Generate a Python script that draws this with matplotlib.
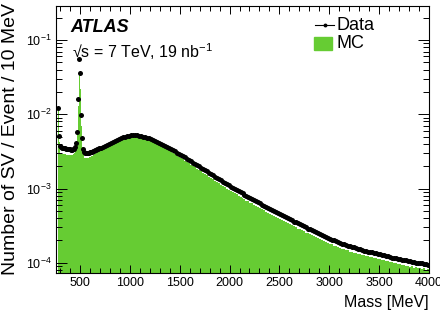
import numpy as np
import matplotlib
matplotlib.use("Agg")
import matplotlib.pyplot as plt
from matplotlib.lines import Line2D
from matplotlib.patches import Rectangle
from matplotlib.ticker import MultipleLocator, LogLocator, NullFormatter

plt.rcParams['font.family'] = ['Liberation Sans', 'DejaVu Sans']
plt.rcParams['mathtext.fontset'] = 'custom'
plt.rcParams['mathtext.rm'] = 'Liberation Sans'
plt.rcParams['mathtext.it'] = 'Liberation Sans:italic'

# Binning: 10 MeV bins from 260 to 700, 20 MeV bins from 700 to 4000
edges_fino = np.arange(260, 701, 10)
edges_grueso = np.arange(700, 4001, 20)

# Valores en unidades de 1e-5 (numero de SV / evento / 10 MeV)
data_fino = [0, 0, 1200, 510, 370, 360, 355, 350, 350, 350,
             345, 345, 340, 340, 340, 335, 335, 340, 345, 360,
             410, 570, 1600, 5500, 3600, 970, 480, 340, 310, 300,
             300, 300, 305, 305, 310, 315, 315, 320, 325, 330,
             335, 340, 345, 350]
mc_fino = [0, 0, 1250, 420, 300, 295, 290, 290, 288, 290,
           285, 287, 283, 285, 282, 284, 285, 290, 300, 320,
           370, 520, 1300, 3700, 2200, 700, 360, 280, 260, 255,
           258, 255, 260, 262, 268, 272, 278, 283, 290, 296,
           303, 310, 318, 326]

data_grueso = [355, 365, 375, 385, 400, 415, 430, 440, 455, 465,
               480, 490, 500, 510, 515, 520, 522, 522, 520, 515,
               510, 502, 494, 485, 475, 464, 452, 440, 428, 415,
               402, 390, 377, 364, 352, 340, 328, 316, 305, 294,
               283, 272, 262, 252, 242, 233, 224, 215, 207, 199,
               191, 184, 177, 170, 163, 157, 151, 145, 139, 134,
               128.5, 123.5, 119, 114, 110, 106, 102.5, 99, 95.5, 92,
               89, 86, 83, 80, 77.5, 75, 72.5, 70, 67.5, 65,
               63, 61, 59, 57, 55, 53, 51.5, 50, 48.5, 47,
               45.5, 44, 42.5, 41, 39.7, 38.5, 37.3, 36, 35, 34,
               33, 32, 31, 30, 29, 28.2, 27.4, 26.6, 25.8, 25,
               24.3, 23.6, 22.9, 22.2, 21.6, 21, 20.5, 20, 19.5, 19,
               18.6, 18.2, 17.8, 17.4, 17, 16.7, 16.4, 16.1, 15.8, 15.5,
               15.2, 14.9, 14.6, 14.4, 14.2, 14, 13.8, 13.6, 13.4, 13.2,
               13, 12.8, 12.6, 12.4, 12.2, 12, 11.8, 11.6, 11.5, 11.4,
               11.2, 11, 10.9, 10.8, 10.6, 10.5, 10.4, 10.2, 10.1, 10,
               9.9, 9.8, 9.7, 9.6, 9.5]
mc_grueso = [335, 347, 358, 370, 386, 402, 417, 428, 444, 455,
             470, 480, 492, 500, 506, 511, 512, 511, 508, 503,
             497, 488, 479, 469, 458, 446, 433, 421, 408, 394,
             381, 368, 354, 341, 329, 316, 304, 292, 281, 270,
             259, 248, 238, 228, 219, 210, 201, 193, 185, 177,
             170, 163, 157, 150, 144, 139, 133, 128, 122, 118,
             113, 108, 104, 100, 96.5, 92, 89.5, 86, 83.5, 79.5,
             77.5, 74.5, 72, 69, 67.5, 64.5, 63, 60, 58.5, 56,
             54.5, 52.5, 51, 49, 47.5, 45.5, 44.5, 43, 41.5, 40.5,
             39, 38, 36.5, 35.5, 34, 33.3, 32, 31, 30.2, 29,
             28.5, 27.3, 26.7, 25.6, 25, 24.1, 23.6, 22.7, 22.2, 21.3,
             20.9, 20.1, 19.8, 18.9, 18.6, 17.9, 17.7, 17, 16.8, 16.2,
             16, 15.5, 15.4, 14.8, 14.7, 14.2, 14.1, 13.7, 13.6, 13.2,
             13.1, 12.6, 12.6, 12.2, 12.2, 11.9, 11.9, 11.5, 11.5, 11.2,
             11.2, 10.8, 10.8, 10.5, 10.5, 10.2, 10.2, 9.8, 9.9, 9.6,
             9.7, 9.3, 9.4, 9.1, 9.1, 8.9, 9, 8.6, 8.8, 8.5,
             8.6, 8.3, 8.4, 8.1, 8.3]

edges = np.concatenate([edges_fino, edges_grueso[1:]])
data = np.array(data_fino + data_grueso) * 1e-5
mc = np.array(mc_fino + mc_grueso) * 1e-5
centros = 0.5 * (edges[1:] + edges[:-1])

verde = '#66cc33'

fig = plt.figure(figsize=(4.4, 3.14), dpi=100)
ax = fig.add_axes([56/440, 1 - 273/314, (429 - 56)/440, (273 - 6)/314])

ax.stairs(mc, edges, fill=True, baseline=1e-6, color=verde, lw=0)
m = data > 0
ax.plot(centros[m], data[m], 'o', color='k', ms=3.6, mew=0)

ax.set_yscale('log')
ax.set_xlim(260, 4000)
ax.set_ylim(7.3e-5, 0.287)

ax.xaxis.set_major_locator(MultipleLocator(500))
ax.xaxis.set_minor_locator(MultipleLocator(100))
ax.yaxis.set_minor_locator(LogLocator(subs=np.arange(2, 10)))
ax.yaxis.set_minor_formatter(NullFormatter())
ax.tick_params(which='both', direction='in', top=True, right=True, labelsize=9, width=0.7)
ax.tick_params(axis='x', which='major', length=6, pad=3)
ax.tick_params(axis='x', which='minor', length=3.5)
ax.tick_params(axis='y', which='major', length=8, pad=3)
ax.tick_params(axis='y', which='minor', length=4)
for s in ax.spines.values():
    s.set_linewidth(0.8)

fig.text(429/440, 1 - 303/314, 'Mass [MeV]', ha='right', va='center', fontsize=11.5)
fig.text(11/440, 1 - 3/314, 'Number of SV / Event / 10 MeV', rotation=90,
         ha='center', va='top', fontsize=14)

fig.text(70/440, 1 - 32.5/314, 'ATLAS', fontsize=13, fontweight='bold',
         fontstyle='italic', va='baseline')
fig.text(72/440, 1 - 58/314, '\u221as = 7 TeV, 19 nb$^{\\mathregular{-1}}$', fontsize=11.5,
         va='baseline')

# leyenda
fig.add_artist(Line2D([315/440, 334/440], [1 - 25/314, 1 - 25/314], color='k', lw=0.8,
                      transform=fig.transFigure))
fig.add_artist(Line2D([325/440], [1 - 25/314], marker='o', color='k', ms=2.8, mew=0,
                      transform=fig.transFigure))
fig.add_artist(Rectangle((314/440, 1 - 50/314), 18/440, 13/314, color=verde,
                         transform=fig.transFigure))
fig.text(336/440, 1 - 25/314, 'Data', fontsize=13, va='center')
fig.text(336/440, 1 - 44/314, 'MC', fontsize=13, va='center')

fig.savefig('out.png', dpi=100)
